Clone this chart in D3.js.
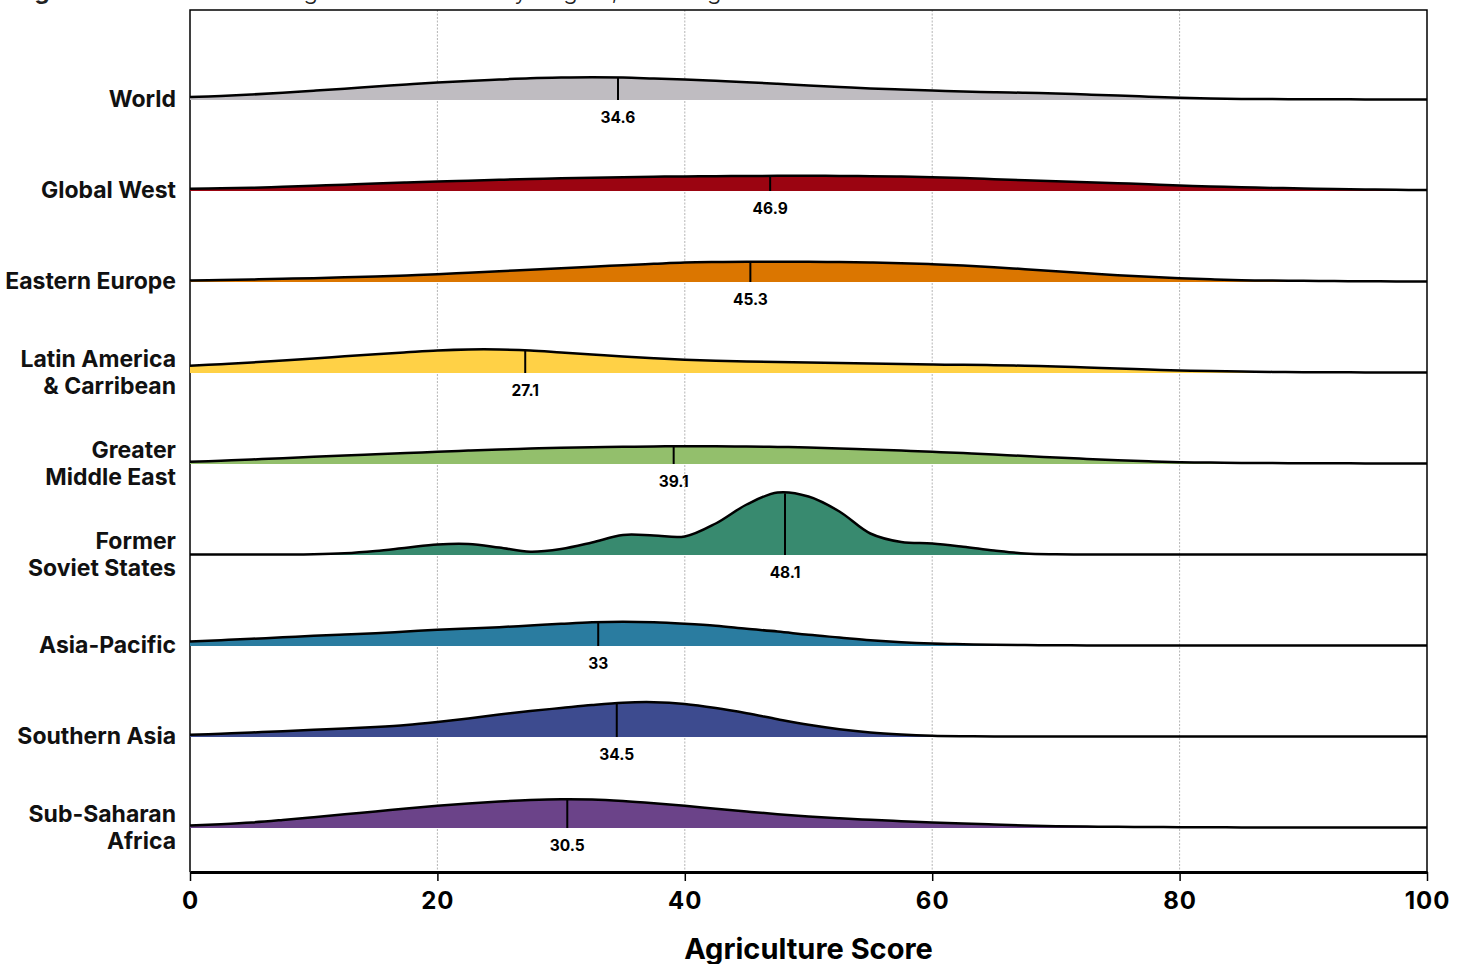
<!DOCTYPE html>
<html>
<head>
<meta charset="utf-8">
<script src="https://cdn.jsdelivr.net/npm/d3@7"></script>
<style>
  html, body { margin: 0; padding: 0; background: #fff; }
  svg { display: block; }
  text { font-family: Inter, "Open Sans", sans-serif; }
</style>
</head>
<body>
<svg id="chart" width="1465" height="964"></svg>
<script>
// ---------- DATA ----------
const regions = ["World", "Global West", "Eastern Europe", "Latin America & Carribean",
  "Greater Middle East", "Former Soviet States", "Asia-Pacific", "Southern Asia", "Sub-Saharan Africa"];
const labelLines = [["World"], ["Global West"], ["Eastern Europe"], ["Latin America", "& Carribean"],
  ["Greater", "Middle East"], ["Former", "Soviet States"], ["Asia-Pacific"], ["Southern Asia"], ["Sub-Saharan", "Africa"]];
const colors = ["#bfbcc1", "#9b0411", "#db7600", "#ffd146", "#93bf6c", "#388a6f", "#2a7ca0", "#3d4b8f", "#6b4389"];
const medians = [34.6, 46.9, 45.3, 27.1, 39.1, 48.1, 33, 34.5, 30.5];
const medianLabels = ["34.6", "46.9", "45.3", "27.1", "39.1", "48.1", "33", "34.5", "30.5"];
const xTicks = [0, 20, 40, 60, 80, 100];

// score grid for the density estimates
const scoreGrid = [0, 2.5, 5, 7.5, 10, 12.5, 15, 17.5, 20, 22.5, 25, 27.5, 30, 32.5, 35, 37.5, 40, 42.5, 45, 47.5,
  50, 52.5, 55, 57.5, 60, 62.5, 65, 67.5, 70, 72.5, 75, 77.5, 80, 82.5, 85, 87.5, 90, 92.5, 95, 97.5, 100];

// density (x1000) per region
const densWorld = [2.5, 3.5, 5, 6.8, 8.8, 10.8, 12.9, 15, 17, 18.6, 20, 21.3, 22, 22.3, 22, 21, 20, 18.7, 17.3, 15.7,
  14, 12.5, 11, 10, 9, 8, 7.3, 6.7, 6, 5, 4, 2.8, 1.7, 1, 0.6, 0.4, 0.3, 0.2, 0.1, 0, 0];
const densGlobalWest = [1.7, 2.2, 2.7, 3.7, 4.7, 5.8, 7, 8, 9, 9.8, 10.7, 11.5, 12.3, 12.8, 13.3, 13.8, 14.1, 14.3, 14.5, 14.7,
  14.7, 14.6, 14.3, 13.9, 13.3, 12.4, 11.3, 10.3, 9.3, 8.3, 7.3, 6.2, 5, 4.1, 3.3, 2.6, 2, 1.5, 1, 0.7, 0.5];
const densEasternEurope = [1, 1.5, 2, 2.7, 3.3, 4.2, 5, 6.1, 7.3, 8.8, 10.3, 11.8, 13.3, 14.8, 16.3, 17.7, 19, 19.5, 19.7, 19.8,
  19.7, 19.4, 19, 18.3, 17.3, 16, 14.3, 12.3, 10.3, 8.3, 6.3, 4.7, 3.3, 2.2, 1.3, 0.9, 0.7, 0.4, 0.2, 0.1, 0];
const densLatinAmerica = [6.7, 8.3, 10, 12, 14, 16.2, 18.3, 20.2, 22, 23, 23, 22, 20, 18, 16, 14.2, 12.7, 11.7, 11, 10.5,
  10, 9.5, 9, 8.5, 8, 7.7, 7.3, 6.7, 6, 5, 4, 3, 2, 1.4, 1, 0.6, 0.3, 0.2, 0.1, 0, 0];
const densMiddleEast = [1.7, 2.8, 4, 5.3, 6.7, 8, 9.3, 10.5, 11.7, 12.9, 14, 14.9, 15.7, 16.2, 16.7, 17.1, 17.3, 17.2, 17, 16.6,
  16, 15.1, 14, 12.9, 11.7, 10.4, 9, 7.5, 6, 4.6, 3.3, 2.2, 1.3, 0.9, 0.6, 0.4, 0.3, 0.2, 0.1, 0, 0];
const densFormerSoviet = [0, 0, 0, 0, 0.2, 1.2, 3.5, 6.8, 10, 10.5, 7, 2.8, 5.5, 12, 19.5, 19, 18, 31, 50, 62,
  58, 43, 21, 12.5, 11, 7.8, 4, 1, 0.2, 0, 0, 0, 0, 0, 0, 0, 0, 0, 0, 0, 0];
const densAsiaPacific = [4, 5.3, 6.7, 8.2, 9.7, 11, 12.3, 14, 15.7, 17, 18.3, 20, 21.7, 23.2, 23.7, 23.2, 21.7, 19.7, 16.7, 14,
  10.7, 8, 5.3, 3.3, 2, 1.3, 0.7, 0.4, 0.2, 0.1, 0, 0, 0, 0, 0, 0, 0, 0, 0, 0, 0];
const densSouthernAsia = [1.7, 2.8, 4, 5.3, 6.7, 8, 9.5, 11.5, 14.5, 18, 22, 25.5, 28.5, 31.5, 33.8, 34.3, 32.5, 28.5, 23.3, 17.3,
  11.7, 7.3, 4, 2, 0.8, 0.3, 0.1, 0, 0, 0, 0, 0, 0, 0, 0, 0, 0, 0, 0, 0, 0];
const densSubSaharan = [2, 3.3, 5, 7.5, 10.3, 13.2, 16, 19, 21.7, 24, 26, 27.5, 28.3, 28, 26.5, 24.3, 21.7, 18.8, 16, 13.3,
  11, 9.2, 7.7, 6.3, 5, 4, 3, 2.1, 1.3, 0.9, 0.7, 0.5, 0.3, 0.2, 0.1, 0, 0, 0, 0, 0, 0];

const densities = [densWorld, densGlobalWest, densEasternEurope, densLatinAmerica, densMiddleEast,
  densFormerSoviet, densAsiaPacific, densSouthernAsia, densSubSaharan];

const titleBold = "Figure 4:";
const titleRest = " Distribution of Agriculture Scores by Region, with Regional Median";
const xTitle = "Agriculture Score";

// ---------- LAYOUT ----------
const svg = d3.select("#chart");
const plotL = 190, plotR = 1427, plotT = 10, plotB = 872;

const x = d3.scaleLinear().domain([0, 100]).range([plotL, plotR]);
const y = d3.scalePoint().domain(regions).range([100, 828]);
const h = d3.scaleLinear().domain([0, 70]).range([0, 70]);

// title (only its descenders show above the frame, as in the source)
const title = svg.append("text")
  .attr("x", 14).attr("y", -1)
  .attr("font-size", 24)
  .attr("fill", "#222");
title.append("tspan").attr("font-weight", 700).text(titleBold);
title.append("tspan").attr("font-weight", 300).text(titleRest);

// grid lines
svg.append("g").selectAll("line")
  .data(xTicks.filter(d => d > 0 && d < 100))
  .join("line")
  .attr("x1", d => x(d)).attr("x2", d => x(d))
  .attr("y1", plotT).attr("y2", plotB)
  .attr("stroke", "#b5b5b5").attr("stroke-width", 1)
  .attr("stroke-dasharray", "2,1.5");

// frame top / left / right
svg.append("path")
  .attr("d", `M${plotL},${plotB} V${plotT} H${plotR} V${plotB}`)
  .attr("fill", "none").attr("stroke", "#000").attr("stroke-width", 1.5);

// ridges
const ridges = svg.append("g");
const curve = d3.curveCatmullRom.alpha(0.5);
regions.forEach((r, i) => {
  const base = y(r);
  const pts = scoreGrid.map((s, j) => [s, densities[i][j]]);
  const area = d3.area()
    .x(d => x(d[0]))
    .y0(base)
    .y1(d => base - 0.5 - h(d[1]))
    .curve(curve);
  const line = d3.line()
    .x(d => x(d[0]))
    .y(d => base - 0.5 - h(d[1]))
    .curve(curve);
  const g = ridges.append("g");
  g.append("path").attr("d", area(pts)).attr("fill", colors[i]);
  g.append("path").attr("d", line(pts)).attr("fill", "none")
    .attr("stroke", "#000").attr("stroke-width", 2.5);

  // median line: height from density at the median
  const m = medians[i];
  const k = d3.bisectRight(scoreGrid, m) - 1;
  const t = (m - scoreGrid[k]) / (scoreGrid[k + 1] - scoreGrid[k]);
  const dm = densities[i][k] * (1 - t) + densities[i][k + 1] * t;
  g.append("line")
    .attr("x1", x(m)).attr("x2", x(m))
    .attr("y1", base).attr("y2", base - 0.5 - h(dm))
    .attr("stroke", "#000").attr("stroke-width", 2);
  g.append("text")
    .attr("x", x(m)).attr("y", base + 18.5)
    .attr("text-anchor", "middle").attr("dominant-baseline", "middle")
    .attr("font-size", 15.5).attr("font-weight", 700)
    .text(medianLabels[i]);

  // category label
  const lines = labelLines[i];
  const lh = 27;
  const lab = svg.append("text")
    .attr("text-anchor", "end")
    .attr("font-size", 23).attr("font-weight", 700).attr("fill", "#111");
  lines.forEach((ln, li) => {
    lab.append("tspan")
      .attr("x", 176)
      .attr("y", base + 1 + (li - (lines.length - 1) / 2) * lh)
      .attr("dominant-baseline", "middle")
      .text(ln);
  });
});

// x axis
const xAxis = d3.axisBottom(x).tickValues(xTicks).tickSize(9).tickPadding(11).tickSizeOuter(0);
const ax = svg.append("g").attr("transform", `translate(0,${plotB})`).call(xAxis);
ax.select(".domain").attr("stroke", "#000").attr("stroke-width", 3);
ax.selectAll(".tick line").attr("stroke", "#000").attr("stroke-width", 1.5);
ax.selectAll(".tick text")
  .attr("font-family", "Inter, sans-serif")
  .attr("font-size", 24).attr("font-weight", 700).attr("fill", "#000")
  .attr("letter-spacing", 1);

svg.append("text")
  .attr("x", (plotL + plotR) / 2).attr("y", 959)
  .attr("text-anchor", "middle")
  .attr("font-size", 29).attr("font-weight", 700)
  .text(xTitle);
</script>
</body>
</html>
